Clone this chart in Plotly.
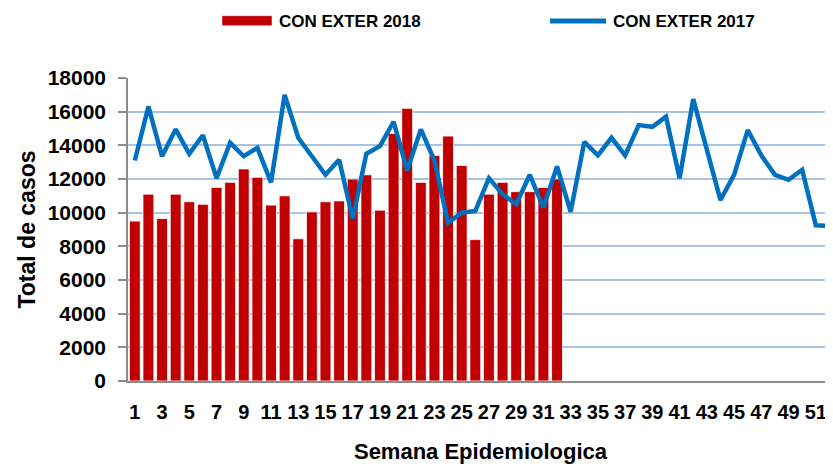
import plotly.graph_objects as go

# ---- data ----
weeks_2018 = list(range(1, 33))
cases_2018 = [9500, 11100, 9650, 11100, 10650, 10500, 11500, 11800, 12600, 12100,
              10450, 11000, 8450, 10050, 10650, 10700, 12000, 12250, 10150, 14700,
              16200, 11800, 13400, 14550, 12800, 8400, 11100, 11800, 11250, 11250,
              11500, 12000]
weeks_2017 = list(range(1, 53))
cases_2017 = [13100, 16300, 13350, 14950, 13500, 14600, 12050, 14150, 13350, 13850,
              11800, 17000, 14450, 13350, 12250, 13150, 9650, 13500, 13950, 15400,
              12500, 14950, 13100, 9400, 10000, 10100, 12050, 11100, 10500, 12250,
              10300, 12750, 10050, 14200, 13400, 14450, 13400, 15200, 15100, 15700,
              12050, 16750, 13800, 10750, 12250, 14900, 13400, 12250, 11950, 12550,
              9250, 9200]
x_tick_vals = list(range(1, 52, 2))
x_tick_text = [str(v) for v in x_tick_vals]
y_tick_vals = list(range(0, 18001, 2000))
y_tick_text = [str(v) for v in y_tick_vals]
series_names = ["CON EXTER 2018", "CON EXTER 2017"]
x_title = "Semana Epidemiologica"
y_title = "Total de casos"

RED = "#C00000"
BLUE = "#0070C0"
FONT = "Liberation Sans, Arial, sans-serif"

OFF = 8  # page body margin
W, H = 825, 458
L, R, T, B = 120, 0, 70, 85
PW, PH = W - L - R, H - T - B
STEP = 13.62  # px per week


def px(xp):  # viewport pixel -> paper
    return (xp - OFF - L) / PW


def py(yp):
    return (H - B - (yp - OFF)) / PH


fig = go.Figure()
fig.add_trace(go.Bar(x=weeks_2018, y=cases_2018, name=series_names[0],
                     marker=dict(color=RED, line=dict(color="white", width=0.8)),
                     showlegend=False))
fig.add_trace(go.Scatter(x=weeks_2017, y=cases_2017, name=series_names[1], mode="lines",
                         line=dict(color=BLUE, width=4.5), showlegend=False))

# custom legend (wide swatches as in the reference)
fig.add_shape(type="rect", xref="paper", yref="paper",
              x0=px(222), x1=px(272), y0=py(25.7), y1=py(15.7),
              fillcolor=RED, line=dict(color="white", width=0.5))
fig.add_shape(type="line", xref="paper", yref="paper",
              x0=px(550), x1=px(606), y0=py(21), y1=py(21),
              line=dict(color=BLUE, width=5))
fig.add_annotation(text=series_names[0], xref="paper", yref="paper",
                   x=px(277), y=py(21.5), xanchor="left", yanchor="middle",
                   showarrow=False, font=dict(family=FONT, size=17, color="black", weight="bold"))
fig.add_annotation(text=series_names[1], xref="paper", yref="paper",
                   x=px(611), y=py(21.5), xanchor="left", yanchor="middle",
                   showarrow=False, font=dict(family=FONT, size=17, color="black", weight="bold"))

fig.update_layout(
    width=W, height=H,
    margin=dict(l=L, r=R, t=T, b=B, pad=0),
    paper_bgcolor="white", plot_bgcolor="white",
    bargap=0.2,
    showlegend=False,
    font=dict(family=FONT, color="black"),
)
fig.update_xaxes(
    range=[0.5, 0.5 + PW / STEP],
    tickmode="array", tickvals=x_tick_vals, ticktext=x_tick_text, tickangle=0,
    tickfont=dict(family=FONT, size=20, weight="bold"),
    showline=True, linecolor="#8C8C8C", linewidth=1.5,
    showgrid=False, zeroline=False, ticks="",
    ticklabelstandoff=12, automargin=False, ticklabeloverflow="allow",
    title=dict(text=x_title, font=dict(family=FONT, size=22, weight="bold"), standoff=22),
)
fig.update_yaxes(
    range=[0, 18000],
    tickmode="array", tickvals=y_tick_vals, ticktext=y_tick_text,
    tickfont=dict(family=FONT, size=21, weight="bold"),
    showline=True, linecolor="#8C8C8C", linewidth=1.5,
    ticks="outside", ticklen=8, tickcolor="#8C8C8C", tickwidth=1.5,
    showgrid=True, gridcolor="#A9C2EA", gridwidth=2, zeroline=False,
    ticklabelstandoff=8, automargin=False,
    title=dict(text=y_title, font=dict(family=FONT, size=23, weight="bold"), standoff=6),
)

fig.write_html("out.html")
